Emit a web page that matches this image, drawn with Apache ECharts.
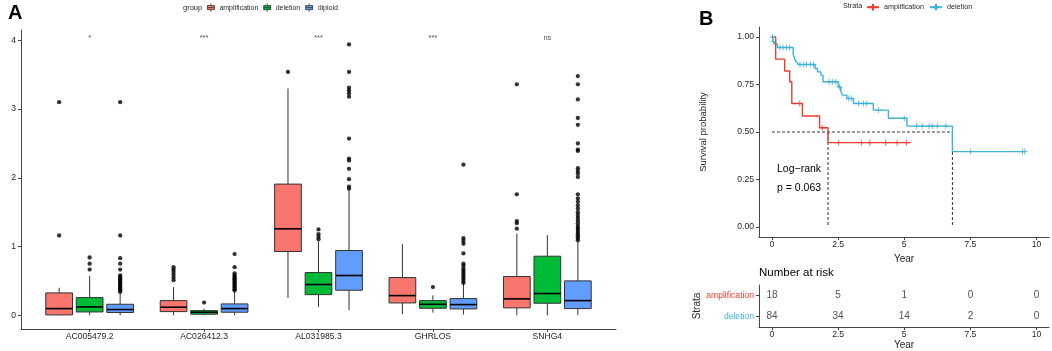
<!DOCTYPE html>
<html>
<head>
<meta charset="utf-8">
<script src="https://cdn.jsdelivr.net/npm/echarts@6/dist/echarts.min.js"></script>
<style>
html, body { margin: 0; padding: 0; background: #fff; }
#chart { width: 1052px; height: 351px; }
</style>
</head>
<body>
<div id="chart"></div>
<script>
// ---- panel A data ----
var genes = ['AC005479.2', 'AC026412.3', 'AL031985.3', 'GHRLOS', 'SNHG4'];
var groups = ['amplification', 'deletion', 'diploid'];
var signif = ['*', '***', '***', '***', 'ns'];
// [low whisker, q1, median, q3, high whisker]
var ampBox = [[0, 0.005, 0.097, 0.325, 0.40], [0, 0.053, 0.117, 0.213, 0.41], [0.252, 0.927, 1.257, 1.908, 3.30], [0.015, 0.179, 0.286, 0.549, 1.034], [0, 0.107, 0.238, 0.563, 1.19]];
var delBox = [[0, 0.048, 0.121, 0.257, 0.57], [0, 0.015, 0.044, 0.068, 0.097], [0.121, 0.30, 0.447, 0.621, 1.08], [0.038, 0.102, 0.16, 0.213, 0.29], [0, 0.175, 0.316, 0.859, 1.165]];
var dipBox = [[0, 0.04, 0.083, 0.16, 0.316], [0, 0.044, 0.097, 0.165, 0.34], [0.073, 0.364, 0.578, 0.942, 1.81], [0.01, 0.092, 0.155, 0.243, 0.46], [0, 0.097, 0.213, 0.50, 1.07]];
var ampOut = [[1.16, 3.10], [0.51, 0.55, 0.59, 0.63, 0.665, 0.70], [3.54], [], [1.26, 1.34, 1.37, 1.76, 3.36]];
var delOut = [[0.665, 0.75, 0.84], [0.185], [1.107, 1.14, 1.18, 1.248], [0.41], []];
var dipOut = [
  [0.34, 0.36, 0.38, 0.40, 0.42, 0.44, 0.46, 0.48, 0.50, 0.52, 0.54, 0.56, 0.58, 0.665, 0.75, 0.83, 1.16, 3.10],
  [0.36, 0.38, 0.40, 0.42, 0.44, 0.46, 0.48, 0.50, 0.52, 0.54, 0.56, 0.58, 0.61, 0.70, 0.89],
  [1.84, 1.87, 1.98, 2.13, 2.25, 2.28, 2.57, 3.18, 3.23, 3.27, 3.31, 3.54, 3.94],
  [0.47, 0.50, 0.53, 0.56, 0.59, 0.62, 0.65, 0.68, 0.72, 0.75, 0.90, 1.04, 1.08, 1.12, 2.19],
  [1.09, 1.12, 1.15, 1.18, 1.21, 1.24, 1.27, 1.30, 1.34, 1.38, 1.42, 1.46, 1.50, 1.55, 1.60, 1.65, 1.70, 1.76, 2.01, 2.06, 2.10, 2.14, 2.39, 2.41, 2.50, 2.77, 2.87, 3.14, 3.36, 3.48]
];
var yTicksA = [0, 1, 2, 3, 4];

// ---- panel B data ----
var ampTime = [0, 0.14, 0.48, 0.67, 0.75, 1.15, 1.80, 2.12, 5.24];
var ampSurv = [1, 0.883, 0.821, 0.764, 0.65, 0.584, 0.522, 0.444, 0.444];
var ampCensor = [[1.05, 0.65], [1.90, 0.522], [2.52, 0.444], [3.38, 0.444], [3.70, 0.444], [4.30, 0.444], [4.73, 0.444], [5.08, 0.444]];
var delTime = [0, 0.05, 0.12, 0.2, 0.8, 0.86, 0.93, 1.0, 1.63, 1.72, 1.85, 1.93, 2.5, 2.6, 2.66, 2.83, 3.08, 3.83, 4.4, 5.1, 6.82, 9.56];
var delSurv = [1, 0.976, 0.964, 0.944, 0.912, 0.881, 0.869, 0.855, 0.834, 0.816, 0.799, 0.764, 0.737, 0.715, 0.694, 0.676, 0.65, 0.615, 0.572, 0.531, 0.397, 0.397];
var delCensor = [[0.02, 1.0], [0.06, 0.976], [0.3, 0.944], [0.42, 0.944], [0.55, 0.944], [0.67, 0.944], [1.06, 0.855], [1.2, 0.855], [1.3, 0.855], [1.45, 0.855], [1.57, 0.855],
  [2.16, 0.764], [2.28, 0.764], [2.41, 0.764], [2.55, 0.737], [2.9, 0.676], [3.0, 0.676], [3.27, 0.65], [3.46, 0.65], [3.58, 0.65], [4.02, 0.615], [5.0, 0.572],
  [5.47, 0.531], [5.68, 0.531], [5.94, 0.531], [6.06, 0.531], [6.25, 0.531], [6.57, 0.531], [7.5, 0.397], [9.47, 0.397], [9.55, 0.397]];
var medianTimes = [2.12, 6.82];
var survTicks = [0, 0.25, 0.5, 0.75, 1];
var yearTicks = [0, 2.5, 5, 7.5, 10];
var riskTimes = [0, 2.5, 5, 7.5, 10];
var ampRisk = [18, 5, 1, 0, 0];
var delRisk = [84, 34, 14, 2, 0];

var groupColors = ['#F8766D', '#00BA38', '#619CFF'];
var ampColor = '#EE3B2E', delColor = '#3BB3D8';
var axisColor = '#444', textColor = '#262626';
var offsets = [-0.2667, 0, 0.2667];
var boxW = 0.2333;
var plus = 'path://M5,0V10M0,5H10';

var chart = echarts.init(document.getElementById('chart'));

function boxRender(k) {
  return function (params, api) {
    var x = api.value(0) + offsets[k];
    var lo = api.coord([x, api.value(1)]);
    var q1 = api.coord([x, api.value(2)]);
    var md = api.coord([x, api.value(3)]);
    var q3 = api.coord([x, api.value(4)]);
    var hi = api.coord([x, api.value(5)]);
    var w = api.size([boxW, 0])[0];
    var ls = { stroke: '#333', lineWidth: 1 };
    return {
      type: 'group',
      children: [
        { type: 'line', shape: { x1: lo[0], y1: lo[1], x2: q1[0], y2: q1[1] }, style: ls },
        { type: 'line', shape: { x1: q3[0], y1: q3[1], x2: hi[0], y2: hi[1] }, style: ls },
        { type: 'rect', shape: { x: q3[0] - w / 2, y: q3[1], width: w, height: q1[1] - q3[1] },
          style: { fill: groupColors[k], stroke: '#333', lineWidth: 1 } },
        { type: 'line', shape: { x1: md[0] - w / 2, y1: md[1], x2: md[0] + w / 2, y2: md[1] },
          style: { stroke: '#000', lineWidth: 1.6 } }
      ]
    };
  };
}

var series = [];
[ampBox, delBox, dipBox].forEach(function (boxes, k) {
  series.push({
    name: groups[k],
    type: 'custom',
    xAxisIndex: 0, yAxisIndex: 0,
    itemStyle: { color: groupColors[k], borderColor: '#333', borderWidth: 1 },
    renderItem: boxRender(k),
    encode: { x: 0, y: [1, 2, 3, 4, 5] },
    data: boxes.map(function (b, i) { return [i].concat(b); }),
    z: 2
  });
});
[ampOut, delOut, dipOut].forEach(function (outs, k) {
  var pts = [];
  outs.forEach(function (vals, i) {
    vals.forEach(function (v) { pts.push([i + offsets[k], v]); });
  });
  series.push({
    type: 'scatter', xAxisIndex: 0, yAxisIndex: 0,
    symbolSize: 4.3, itemStyle: { color: '#000' }, data: pts, z: 3, silent: true
  });
});
series.push({
  type: 'scatter', xAxisIndex: 0, yAxisIndex: 0, symbolSize: 1,
  itemStyle: { color: 'rgba(0,0,0,0)' },
  label: { show: true, position: 'inside', fontSize: 7.5, color: textColor,
    formatter: function (p) { return signif[p.dataIndex]; } },
  data: genes.map(function (g, i) { return [i, 4.04]; })
});

// KM curves
function zip(t, s) { return t.map(function (v, i) { return [v, s[i]]; }); }
series.push({
  name: 'km_amplification', type: 'line', step: 'end', xAxisIndex: 1, yAxisIndex: 1,
  showSymbol: false, symbol: plus, symbolSize: 6,
  itemStyle: { color: ampColor, borderColor: ampColor, borderWidth: 1 },
  lineStyle: { color: ampColor, width: 1.4 }, data: zip(ampTime, ampSurv), z: 4
});
series.push({
  name: 'km_deletion', type: 'line', step: 'end', xAxisIndex: 1, yAxisIndex: 1,
  showSymbol: false, symbol: plus, symbolSize: 6,
  itemStyle: { color: delColor, borderColor: delColor, borderWidth: 1 },
  lineStyle: { color: delColor, width: 1.4 }, data: zip(delTime, delSurv), z: 3
});
[[ampCensor, ampColor], [delCensor, delColor]].forEach(function (c) {
  series.push({
    type: 'scatter', xAxisIndex: 1, yAxisIndex: 1, symbol: plus, symbolSize: 6,
    itemStyle: { color: 'rgba(0,0,0,0)', borderColor: c[1], borderWidth: 1 },
    data: c[0], z: 5, silent: true
  });
});
// median lines
var medLine = { color: '#333', width: 1, type: [3, 2] };
series.push({
  type: 'line', xAxisIndex: 1, yAxisIndex: 1, showSymbol: false, silent: true,
  lineStyle: medLine, data: [[0, 0.5], [medianTimes[1], 0.5]], z: 2
});
medianTimes.forEach(function (t) {
  series.push({
    type: 'line', xAxisIndex: 1, yAxisIndex: 1, showSymbol: false, silent: true,
    lineStyle: medLine, data: [[t, 0.5], [t, 0]], z: 2
  });
});
// risk table
var riskPts = [];
riskTimes.forEach(function (t, j) {
  riskPts.push([t, 'amplification', ampRisk[j]]);
  riskPts.push([t, 'deletion', delRisk[j]]);
});
series.push({
  type: 'scatter', xAxisIndex: 2, yAxisIndex: 2, symbolSize: 1,
  itemStyle: { color: 'rgba(0,0,0,0)' },
  label: { show: true, position: 'inside', fontSize: 10, color: textColor,
    formatter: function (p) { return String(p.data[2]); } },
  data: riskPts
});

var legendIconBox = 'path://M0,3H10V9H0Z M5,0V3 M5,9V12 M0,6H10';

var option = {
  animation: false,
  textStyle: { fontFamily: 'Liberation Sans, Arial, sans-serif' },
  grid: [
    { left: 21, top: 30, width: 595, height: 299, outerBoundsMode: 'none' },
    { left: 759, top: 27, width: 290, height: 210, outerBoundsMode: 'none' },
    { left: 759, top: 285, width: 290, height: 42, outerBoundsMode: 'none' }
  ],
  legend: [
    {
      left: 207, top: 3, padding: 0, itemWidth: 7, itemHeight: 10, itemGap: 5,
      textStyle: { fontSize: 7, color: textColor },
      data: groups.map(function (g, k) {
        return { name: g, icon: legendIconBox,
          itemStyle: { color: groupColors[k], borderColor: '#333', borderWidth: 0.8 } };
      }),
      selectedMode: false
    },
    {
      left: 866, top: 3, padding: 0, itemWidth: 12, itemHeight: 8, itemGap: 5,
      textStyle: { fontSize: 7.2, color: textColor },
      data: ['km_amplification', 'km_deletion'],
      formatter: function (n) { return n.replace('km_', ''); },
      selectedMode: false
    }
  ],
  xAxis: [
    {
      gridIndex: 0, type: 'value', min: -0.6, max: 4.6,
      axisLine: { show: true, onZero: false, lineStyle: { color: axisColor } },
      axisTick: { show: true, customValues: [0, 1, 2, 3, 4], length: 3, lineStyle: { color: axisColor } },
      axisLabel: { customValues: [0, 1, 2, 3, 4], margin: 3, fontSize: 8.6, color: textColor,
        formatter: function (v) { return genes[Math.round(v)]; } },
      splitLine: { show: false }
    },
    {
      gridIndex: 1, type: 'value', min: -0.49, max: 10.47,
      name: 'Year', nameLocation: 'middle', nameGap: 11,
      nameTextStyle: { fontSize: 10, color: textColor },
      axisLine: { show: true, onZero: false, lineStyle: { color: axisColor } },
      axisTick: { show: true, customValues: yearTicks, length: 3, lineStyle: { color: axisColor } },
      axisLabel: { customValues: yearTicks, margin: 3, fontSize: 8.6, color: textColor,
        formatter: function (v) { return String(v); } },
      splitLine: { show: false }
    },
    {
      gridIndex: 2, type: 'value', min: -0.49, max: 10.47,
      name: 'Year', nameLocation: 'middle', nameGap: 12,
      nameTextStyle: { fontSize: 10, color: textColor },
      axisLine: { show: true, onZero: false, lineStyle: { color: axisColor } },
      axisTick: { show: true, customValues: yearTicks, length: 3, lineStyle: { color: axisColor } },
      axisLabel: { customValues: yearTicks, margin: 3, fontSize: 8.6, color: textColor,
        formatter: function (v) { return String(v); } },
      splitLine: { show: false }
    }
  ],
  yAxis: [
    {
      gridIndex: 0, type: 'value', min: -0.2, max: 4.15,
      name: 'Gene Expression', nameLocation: 'middle', nameGap: 11,
      nameTextStyle: { fontSize: 8.6, color: textColor },
      axisLine: { show: true, onZero: false, lineStyle: { color: axisColor } },
      axisTick: { show: true, customValues: yTicksA, length: 3, lineStyle: { color: axisColor } },
      axisLabel: { customValues: yTicksA, margin: 5, fontSize: 8.6, color: textColor },
      splitLine: { show: false }
    },
    {
      gridIndex: 1, type: 'value', min: -0.052, max: 1.052,
      name: 'Survival probability', nameLocation: 'middle', nameGap: 51,
      nameTextStyle: { fontSize: 9.5, color: textColor },
      axisLine: { show: true, onZero: false, lineStyle: { color: axisColor } },
      axisTick: { show: true, customValues: survTicks, length: 3, lineStyle: { color: axisColor } },
      axisLabel: { customValues: survTicks, margin: 5, fontSize: 8.6, color: textColor,
        formatter: function (v) { return v.toFixed(2); } },
      splitLine: { show: false }
    },
    {
      gridIndex: 2, type: 'category', data: ['deletion', 'amplification'],
      name: 'Strata', nameLocation: 'middle', nameGap: 55,
      nameTextStyle: { fontSize: 10, color: textColor },
      axisLine: { show: true, onZero: false, lineStyle: { color: axisColor } },
      axisTick: { show: true, alignWithLabel: true, length: 3, lineStyle: { color: axisColor } },
      axisLabel: { margin: 5, fontSize: 8.6,
        color: function (v) { return v === 'amplification' ? ampColor : delColor; } },
      splitLine: { show: false }
    }
  ],
  graphic: [
    { type: 'text', left: 8, top: 3, style: { text: 'A', font: 'bold 20px Liberation Sans, Arial', fill: '#000' } },
    { type: 'text', left: 699, top: 9, style: { text: 'B', font: 'bold 20px Liberation Sans, Arial', fill: '#000' } },
    { type: 'text', left: 183, top: 4, style: { text: 'group', font: '7.5px Liberation Sans, Arial', fill: textColor } },
    { type: 'text', left: 843, top: 3, style: { text: 'Strata', font: '7.2px Liberation Sans, Arial', fill: textColor } },
    { type: 'text', left: 777, top: 164, style: { text: 'Log\u2212rank', font: '10.5px Liberation Sans, Arial', fill: '#000' } },
    { type: 'text', left: 777, top: 183, style: { text: 'p = 0.063', font: '10.5px Liberation Sans, Arial', fill: '#000' } },
    { type: 'text', left: 759, top: 267, style: { text: 'Number at risk', font: '11.5px Liberation Sans, Arial', fill: '#000' } }
  ],
  series: series
};
chart.setOption(option);
</script>
</body>
</html>
